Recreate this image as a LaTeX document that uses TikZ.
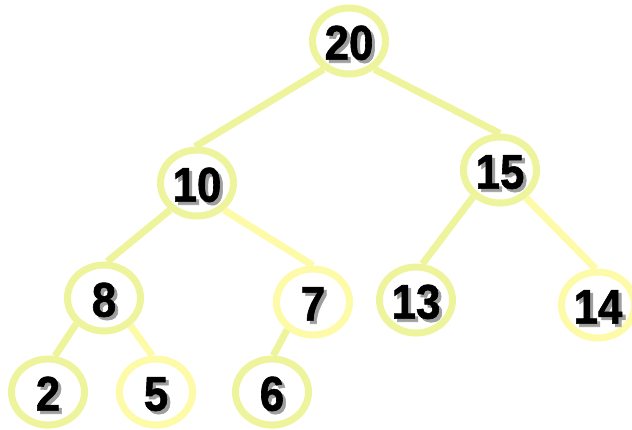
\documentclass[tikz,border=0pt]{standalone}
\usepackage{fontspec}
\setmainfont{Liberation Sans}
\newfontfamily\keyfont[FakeStretch=0.9,FakeBold=1.2]{Liberation Sans Bold}
\usetikzlibrary{positioning,shapes.geometric}
\definecolor{RingGreen}{HTML}{EEF49C}
\definecolor{RingYellow}{HTML}{FDFAA8}
\newcommand\shadenum[1]{%
  \smash{\makebox[0pt][l]{\hspace{2.2pt}\raisebox{-2.2pt}{\textcolor{black!38}{#1}}}}%
  #1}

\begin{document}
\begin{tikzpicture}[
  on grid,
  key/.style={ellipse,draw=RingGreen,line width=5pt,minimum width=1.825cm,minimum height=1.65cm,inner sep=0pt,text height=26.5pt,text depth=0pt,font=\fontsize{34.7}{35}\keyfont},
  keylite/.style={key,draw=RingYellow},
  link/.style={line width=5pt,RingGreen},
  linklite/.style={link,RingYellow}
]
  \useasboundingbox (-8.725,-9.7) rectangle (7.075,1.025);

  \node[key] (k20) {\shadenum{20}};
  \node[key,below left=3.55cm and 3.8cm of k20] (k10) {\shadenum{10}};
  \node[key,below right=3.225cm and 3.775cm of k20] (k15) {\shadenum{15}};
  \node[key,below left=2.875cm and 2.325cm of k10] (k8) {\shadenum{8}};
  \node[keylite,below right=2.975cm and 2.9cm of k10] (k7) {\shadenum{7}};
  \node[key,below left=3.25cm and 2.1cm of k15] (k13) {\shadenum{13}};
  \node[keylite,below right=3.375cm and 2.45cm of k15] (k14) {\shadenum{14}};
  \node[key,below left=2.35cm and 1.4cm of k8] (k2) {\shadenum{2}};
  \node[keylite,below right=2.35cm and 1.3cm of k8] (k5) {\shadenum{5}};
  \node[key,below left=2.25cm and 1.025cm of k7] (k6) {\shadenum{6}};

  \draw[link] (k20.228) -- (k10.93);
  \draw[link] (k20.312) -- (k15.north);
  \draw[link] (k10.225) -- (k8.85);
  \draw[linklite] (k10.315) -- (k7.north);
  \draw[link] (k15.225) -- (k13.80);
  \draw[linklite] (k15.313) -- (k14.94);
  \draw[link] (k8.223) -- (k2.79);
  \draw[linklite] (k8.314) -- (k5.96);
  \draw[link] (k7.227) -- (k6.88);
\end{tikzpicture}
\end{document}
